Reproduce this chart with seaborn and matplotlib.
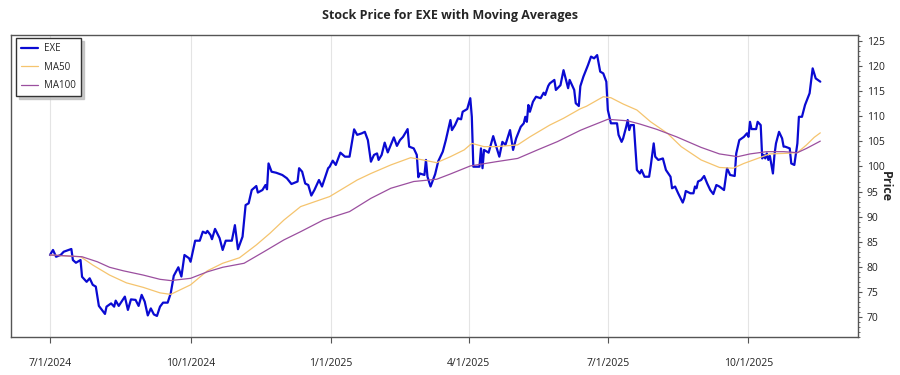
import pandas as pd
import matplotlib
matplotlib.use("Agg")
import matplotlib.pyplot as plt
from matplotlib.ticker import MultipleLocator
import seaborn as sns

# EXE close prices
price_dates = [
    "2024-07-01", "2024-07-03", "2024-07-05", "2024-07-08", "2024-07-10", "2024-07-15", "2024-07-16",
    "2024-07-18", "2024-07-21", "2024-07-22", "2024-07-25", "2024-07-27", "2024-07-29", "2024-07-31",
    "2024-08-02", "2024-08-06", "2024-08-07", "2024-08-10", "2024-08-12", "2024-08-13", "2024-08-15",
    "2024-08-19", "2024-08-21", "2024-08-23", "2024-08-26", "2024-08-28", "2024-08-30",
    "2024-09-01", "2024-09-03", "2024-09-05", "2024-09-07", "2024-09-09", "2024-09-11", "2024-09-13",
    "2024-09-16", "2024-09-18", "2024-09-20", "2024-09-23", "2024-09-25", "2024-09-27", "2024-09-30",
    "2024-10-01", "2024-10-04", "2024-10-07", "2024-10-09", "2024-10-11", "2024-10-12", "2024-10-14",
    "2024-10-15", "2024-10-17", "2024-10-20", "2024-10-22", "2024-10-24", "2024-10-28", "2024-10-30",
    "2024-11-01", "2024-11-04", "2024-11-06", "2024-11-08", "2024-11-10", "2024-11-13", "2024-11-14",
    "2024-11-17", "2024-11-19", "2024-11-20", "2024-11-21", "2024-11-23", "2024-11-26", "2024-11-30",
    "2024-12-03", "2024-12-06", "2024-12-10", "2024-12-11", "2024-12-13", "2024-12-15", "2024-12-17",
    "2024-12-19", "2024-12-21", "2024-12-24", "2024-12-26", "2024-12-30", "2024-12-31",
    "2025-01-02", "2025-01-04", "2025-01-07", "2025-01-10", "2025-01-13", "2025-01-16", "2025-01-18",
    "2025-01-21", "2025-01-23", "2025-01-25", "2025-01-27", "2025-01-29", "2025-01-31",
    "2025-02-01", "2025-02-03", "2025-02-05", "2025-02-07", "2025-02-09", "2025-02-11", "2025-02-13",
    "2025-02-15", "2025-02-17", "2025-02-20", "2025-02-21", "2025-02-24", "2025-02-26", "2025-02-27",
    "2025-02-28",
    "2025-03-03", "2025-03-04", "2025-03-05", "2025-03-07", "2025-03-10", "2025-03-12", "2025-03-15",
    "2025-03-17", "2025-03-20", "2025-03-21", "2025-03-23", "2025-03-25", "2025-03-27", "2025-03-28",
    "2025-03-31",
    "2025-04-02", "2025-04-03", "2025-04-04", "2025-04-08", "2025-04-09", "2025-04-10", "2025-04-11",
    "2025-04-14", "2025-04-17", "2025-04-19", "2025-04-21", "2025-04-23", "2025-04-25", "2025-04-28",
    "2025-04-30",
    "2025-05-02", "2025-05-05", "2025-05-07", "2025-05-08", "2025-05-09", "2025-05-10", "2025-05-11",
    "2025-05-13", "2025-05-15", "2025-05-18", "2025-05-20", "2025-05-21", "2025-05-23", "2025-05-24",
    "2025-05-27", "2025-05-28", "2025-05-31",
    "2025-06-02", "2025-06-05", "2025-06-06", "2025-06-09", "2025-06-10", "2025-06-12", "2025-06-13",
    "2025-06-15", "2025-06-18", "2025-06-20", "2025-06-22", "2025-06-24", "2025-06-26", "2025-06-28",
    "2025-06-30",
    "2025-07-01", "2025-07-03", "2025-07-07", "2025-07-08", "2025-07-10", "2025-07-11", "2025-07-13",
    "2025-07-14", "2025-07-15", "2025-07-16", "2025-07-18", "2025-07-20", "2025-07-22", "2025-07-23",
    "2025-07-25", "2025-07-28", "2025-07-29", "2025-07-31",
    "2025-08-01", "2025-08-03", "2025-08-06", "2025-08-08", "2025-08-11", "2025-08-12", "2025-08-14",
    "2025-08-16", "2025-08-19", "2025-08-20", "2025-08-21", "2025-08-24", "2025-08-26", "2025-08-27",
    "2025-08-28", "2025-08-29", "2025-08-31",
    "2025-09-02", "2025-09-04", "2025-09-06", "2025-09-08", "2025-09-10", "2025-09-12", "2025-09-15",
    "2025-09-17", "2025-09-19", "2025-09-22", "2025-09-23", "2025-09-25", "2025-09-28", "2025-09-30",
    "2025-10-01", "2025-10-02", "2025-10-03", "2025-10-06", "2025-10-07", "2025-10-09", "2025-10-10",
    "2025-10-11", "2025-10-12", "2025-10-13", "2025-10-14", "2025-10-15", "2025-10-17", "2025-10-18",
    "2025-10-19", "2025-10-21", "2025-10-23", "2025-10-24", "2025-10-25", "2025-10-28", "2025-10-29",
    "2025-10-31",
    "2025-11-02", "2025-11-03", "2025-11-05", "2025-11-07", "2025-11-10", "2025-11-12", "2025-11-14",
    "2025-11-17",
]
price_values = [
    82.35, 83.35, 82.0, 82.35, 83.0, 83.55, 81.35, 80.8, 81.35, 78.0, 77.0, 77.7, 76.4, 76.05,
    72.2, 70.6, 72.05, 72.7, 72.05, 73.25, 72.2, 74.05, 71.4, 73.5, 73.4, 72.2, 74.4,
    73.05, 70.3, 71.7, 70.5, 70.2, 72.05, 72.85, 72.85, 74.7, 78.2, 79.9, 78.05, 82.35, 81.7,
    81.0, 85.2, 85.2, 87.0, 86.7, 87.15, 86.35, 85.5, 87.55, 85.7, 83.35, 85.2, 85.2, 88.3,
    83.5, 86.0, 92.3, 92.65, 95.3, 96.1, 94.8, 95.3, 96.3, 95.45, 100.6, 98.95, 98.75, 98.3,
    97.65, 96.5, 97.0, 99.65, 98.95, 96.6, 96.3, 94.2, 95.3, 97.3, 96.0, 99.65, 99.95,
    101.15, 100.3, 102.75, 101.95, 101.95, 107.4, 106.3, 106.6, 106.9, 105.25, 100.95, 102.3, 102.6,
    101.3, 102.3, 104.75, 102.8, 104.3, 105.8, 104.1, 105.25, 105.9, 107.45, 103.95, 103.6, 102.3,
    97.85, 98.6,
    98.3, 101.3, 97.95, 96.0, 98.45, 101.0, 102.95, 105.25, 109.25, 107.25, 108.25, 109.6, 109.4,
    110.9, 111.45,
    113.6, 109.9, 99.95, 99.95, 103.6, 99.65, 103.3, 102.75, 106.05, 103.95, 101.95, 104.9, 104.3,
    107.25, 103.3,
    105.6, 107.9, 108.6, 109.9, 108.9, 112.25, 110.9, 112.9, 113.9, 113.6, 114.7, 114.25, 116.05,
    116.55, 117.25, 115.25, 116.2,
    119.2, 115.6, 117.25, 115.25, 112.6, 112.05, 116.0, 117.9, 120.2, 121.9, 121.55, 122.2, 118.9,
    118.55, 116.9,
    111.25, 108.6, 108.6, 106.3, 104.9, 105.6, 107.9, 109.25, 107.25, 108.25, 108.25, 99.3, 98.6,
    99.3, 97.95, 97.95, 99.95, 104.6,
    101.95, 101.3, 101.6, 99.3, 97.95, 95.65, 96.0, 94.65, 92.8, 93.65, 95.1, 94.65, 94.65, 96.0,
    95.65, 97.0, 97.3,
    98.1, 96.6, 95.3, 94.5, 96.3, 96.0, 95.3, 99.65, 98.3, 98.1, 102.6, 105.25, 105.9, 106.6,
    105.9, 108.9, 107.45, 107.45, 108.9, 108.25, 101.6, 102.3, 101.6, 102.6, 101.3, 102.1, 98.6,
    102.3, 104.6, 106.9, 105.6, 103.95, 103.95, 103.6, 100.6, 100.3,
    104.6, 109.9, 109.9, 112.25, 114.6, 119.55, 117.55, 116.9,
]

# 50-day moving average as drawn
ma50_dates = [
    "2024-07-01", "2024-07-21", "2024-07-29", "2024-08-09", "2024-08-20", "2024-08-31", "2024-09-11",
    "2024-09-18", "2024-10-01", "2024-10-12", "2024-10-22", "2024-11-02", "2024-11-13", "2024-11-22",
    "2024-12-01", "2024-12-12", "2024-12-31", "2025-01-18", "2025-01-27", "2025-02-09", "2025-02-22",
    "2025-03-02", "2025-03-11", "2025-03-20", "2025-03-29", "2025-04-03", "2025-04-11", "2025-04-19",
    "2025-05-03", "2025-05-11", "2025-05-24", "2025-06-02", "2025-06-13", "2025-06-17", "2025-06-28",
    "2025-07-03", "2025-07-11", "2025-07-20", "2025-07-29", "2025-08-09", "2025-08-18", "2025-08-31",
    "2025-09-12", "2025-09-21", "2025-09-28", "2025-10-07", "2025-10-15", "2025-10-24", "2025-11-02",
    "2025-11-08", "2025-11-13", "2025-11-17",
]
ma50_values = [
    82.35, 82.0, 80.35, 78.35, 76.8, 75.9, 74.8, 74.5, 76.4, 79.2, 80.7, 81.8, 84.35, 86.7,
    89.3, 92.0, 94.0, 97.3, 98.6, 100.3, 101.75, 101.3, 100.75, 101.95, 103.3, 104.6, 103.95, 103.95,
    104.3, 105.9, 108.25, 109.6, 111.5, 112.0, 113.9, 113.7, 112.45, 111.25, 108.9, 106.6, 103.95,
    101.3, 99.8, 99.65, 100.6, 101.6, 102.5, 102.6, 102.75, 104.3, 105.8, 106.7,
]

# 100-day moving average as drawn
ma100_dates = [
    "2024-07-01", "2024-07-22", "2024-08-01", "2024-08-09", "2024-08-18", "2024-08-31", "2024-09-11",
    "2024-09-18", "2024-10-01", "2024-10-12", "2024-10-22", "2024-11-05", "2024-11-18", "2024-12-01",
    "2024-12-12", "2024-12-27", "2025-01-13", "2025-01-27", "2025-02-09", "2025-02-24", "2025-03-11",
    "2025-03-20", "2025-04-02", "2025-04-19", "2025-05-03", "2025-05-16", "2025-05-29", "2025-06-13",
    "2025-06-17", "2025-07-01", "2025-07-14", "2025-07-22", "2025-08-02", "2025-08-15", "2025-08-31",
    "2025-09-12", "2025-09-24", "2025-10-02", "2025-10-13", "2025-10-24", "2025-11-02", "2025-11-08",
    "2025-11-17",
]
ma100_values = [
    82.35, 82.0, 81.0, 79.9, 79.2, 78.35, 77.5, 77.25, 77.7, 79.0, 79.9, 80.7, 83.0, 85.35,
    87.0, 89.35, 91.0, 93.65, 95.65, 97.0, 97.45, 98.5, 100.1, 100.95, 101.6, 103.3, 104.95, 107.2,
    107.7, 109.4, 109.1, 108.45, 107.4, 105.9, 103.8, 102.5, 101.95, 102.5, 102.95, 102.95, 102.75,
    103.6, 105.05,
]

tick_dates = ["2024-07-01", "2024-10-01", "2025-01-01", "2025-04-01", "2025-07-01", "2025-10-01"]
tick_labels = ["7/1/2024", "10/1/2024", "1/1/2025", "4/1/2025", "7/1/2025", "10/1/2025"]

sns.set_style("white")
plt.rcParams["font.family"] = ["Open Sans", "DejaVu Sans"]

price = pd.DataFrame({"Date": pd.to_datetime(price_dates), "EXE": price_values})
ma50 = pd.DataFrame({"Date": pd.to_datetime(ma50_dates), "MA50": ma50_values})
ma100 = pd.DataFrame({"Date": pd.to_datetime(ma100_dates), "MA100": ma100_values})

fig = plt.figure(figsize=(9, 3.75), dpi=100)
ax = fig.add_axes([0.0122, 0.1013, 0.941, 0.8053])

sns.lineplot(data=price, x="Date", y="EXE", ax=ax, color="#0A0AD2", linewidth=1.6, label="EXE")
sns.lineplot(data=ma50, x="Date", y="MA50", ax=ax, color="#F5C46E", linewidth=0.9, label="MA50")
sns.lineplot(data=ma100, x="Date", y="MA100", ax=ax, color="#9B4F9F", linewidth=0.9, label="MA100")

ax.set_xlim(pd.Timestamp("2024-06-05 12:00"), pd.Timestamp("2025-12-11 14:00"))
ax.set_ylim(66.0, 126.2)

ax.set_xticks(pd.to_datetime(tick_dates))
ax.set_xticklabels(tick_labels)
ax.set_xlabel("")
ax.yaxis.tick_right()
ax.yaxis.set_label_position("right")
ax.yaxis.set_major_locator(MultipleLocator(5))
ax.yaxis.set_minor_locator(MultipleLocator(1))
ax.set_ylabel("Price", rotation=270, fontweight="bold", fontsize=9, ha="center", va="center")
ax.yaxis.set_label_coords(1.032, 0.5)

ax.grid(axis="x", color="#e4e4e4", linewidth=0.8)
ax.grid(axis="y", visible=False)
for s in ax.spines.values():
    s.set_visible(True)
    s.set_color("#555555")
    s.set_linewidth(1.0)

ax.tick_params(axis="x", bottom=True, length=4, pad=11, labelsize=7.5, color="#555555", labelcolor="#222222")
ax.tick_params(axis="y", which="major", right=True, left=False, length=3, labelsize=7.5,
               color="#555555", labelcolor="#222222")
ax.tick_params(axis="y", which="minor", right=True, left=False, length=1.5, color="#555555")

ax.legend(loc="upper left", bbox_to_anchor=(0.006, 0.99), borderaxespad=0.0, frameon=True, fancybox=False,
          shadow={"color": "#bdbdbd", "alpha": 0.8}, fontsize=7, edgecolor="#333333",
          handlelength=1.8, handletextpad=0.6, borderpad=0.5, labelspacing=0.8)

fig.text(0.5, 1 - 15 / 375, "Stock Price for EXE with Moving Averages", ha="center", va="center",
         fontsize=9, fontweight="bold")

fig.savefig("out.png", dpi=100)
